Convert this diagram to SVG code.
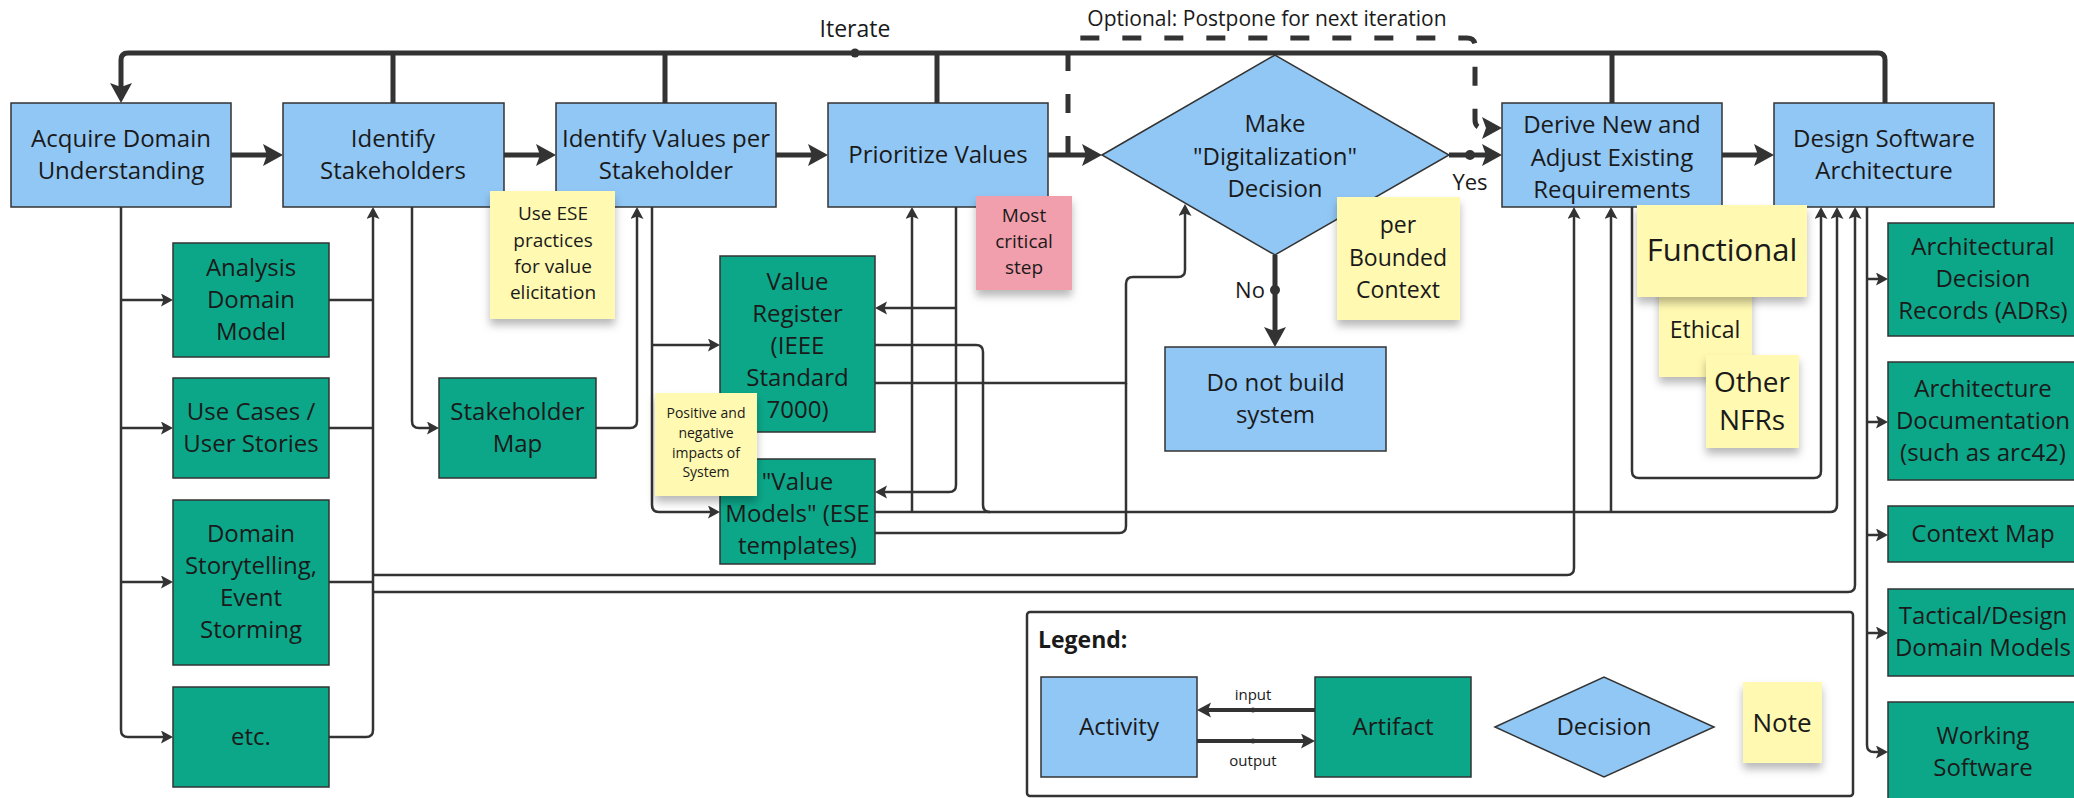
<svg xmlns="http://www.w3.org/2000/svg" width="2074" height="798" viewBox="0 0 2074 798">
<defs>
<style>
text { font-family: 'Open Sans', 'Liberation Sans', sans-serif; fill: #1a1a1a; text-anchor: middle; font-size: 24px; }
.act { fill: #91c7f5; stroke: #333; stroke-width: 1.5; }
.art { fill: #0ca789; stroke: #333; stroke-width: 1.5; }
.note { fill: #fff9b1; filter: url(#nsh); }
.pink { fill: #f29fad; filter: url(#nsh); }
.thick { fill: none; stroke: #333; stroke-width: 5; }
.thin { fill: none; stroke: #333; stroke-width: 2.5; }
.dash { fill: none; stroke: #333; stroke-width: 5; stroke-dasharray: 19 23; }
.mid { fill: none; stroke: #333; stroke-width: 4; }
.lbl { font-size: 22px; }
</style>
<marker id="aT" markerUnits="userSpaceOnUse" markerWidth="24" markerHeight="24" refX="8" refY="11" orient="auto">
<path d="M0,0 L20,11 L0,22 L4,11 z" fill="#333"/>
</marker>
<marker id="at" markerUnits="userSpaceOnUse" markerWidth="14" markerHeight="14" refX="5" refY="6.5" orient="auto">
<path d="M0,0 L12,6.5 L0,13 L2.5,6.5 z" fill="#333"/>
</marker>
<marker id="am" markerUnits="userSpaceOnUse" markerWidth="16" markerHeight="16" refX="6" refY="7.5" orient="auto">
<path d="M0,0 L14,7.5 L0,15 L3,7.5 z" fill="#333"/>
</marker>
<filter id="nsh" x="-20%" y="-20%" width="140%" height="150%">
<feDropShadow dx="0" dy="6" stdDeviation="4" flood-color="#000" flood-opacity="0.28"/>
</filter>
</defs>
<rect width="2074" height="798" fill="#fff"/>

<g id="connectors">
<!-- thick main flow -->
<path class="thick" d="M231,155 H271" marker-end="url(#aT)"/>
<path class="thick" d="M504,155 H544" marker-end="url(#aT)"/>
<path class="thick" d="M776,155 H816" marker-end="url(#aT)"/>
<path class="thick" d="M1048,155 H1090" marker-end="url(#aT)"/>
<path class="thick" d="M1449,155 H1490" marker-end="url(#aT)"/>
<circle cx="1470" cy="155" r="5" fill="#333"/>
<path class="thick" d="M1722,155 H1762" marker-end="url(#aT)"/>
<path class="thick" d="M1275,255 V335" marker-end="url(#aT)"/>
<circle cx="1275" cy="290" r="5" fill="#333"/>
<!-- iterate loop -->
<path class="thick" d="M1885,103 V60 Q1885,53 1878,53 H128 Q121,53 121,60 V91" marker-end="url(#aT)"/>
<path class="thick" d="M393,103 V53 M665,103 V53 M937,103 V53 M1612,103 V53"/>
<circle cx="855" cy="53" r="4.5" fill="#333"/>
<!-- optional dashed -->
<path class="dash" d="M1068,155 V46 Q1068,38 1076,38 H1467 Q1475,38 1475,46 V120 Q1475,128 1483,128 H1490" marker-end="url(#aT)"/>
<!-- acquire outputs -->
<path class="thin" d="M121,207 V730 Q121,737 128,737 H166" marker-end="url(#at)"/>
<path class="thin" d="M121,300 H166" marker-end="url(#at)"/>
<path class="thin" d="M121,428 H166" marker-end="url(#at)"/>
<path class="thin" d="M121,582 H166" marker-end="url(#at)"/>
<!-- artifacts into identify stakeholders -->
<path class="thin" d="M329,300 H373 M329,428 H373 M329,582 H373"/>
<path class="thin" d="M329,737 H366 Q373,737 373,730 V214" marker-end="url(#at)"/>
<path class="thin" d="M373,575 H1567 Q1574,575 1574,568 V214" marker-end="url(#at)"/>
<path class="thin" d="M373,592 H1848 Q1855,592 1855,585 V214" marker-end="url(#at)"/>
<!-- stakeholder map -->
<path class="thin" d="M412,207 V421 Q412,428 419,428 H432" marker-end="url(#at)"/>
<path class="thin" d="M596,428 H630 Q637,428 637,421 V214" marker-end="url(#at)"/>
<!-- identify values outputs -->
<path class="thin" d="M652,207 V505 Q652,512 659,512 H713" marker-end="url(#at)"/>
<path class="thin" d="M652,345 H713" marker-end="url(#at)"/>
<!-- prioritize outputs -->
<path class="thin" d="M956,207 V485 Q956,492 949,492 H882" marker-end="url(#at)"/>
<path class="thin" d="M956,308 H882" marker-end="url(#at)"/>
<!-- value artifacts inputs -->
<path class="thin" d="M875,345 H976 Q983,345 983,352 V505 Q983,512 990,512"/>
<path class="thin" d="M875,512 H1830 Q1837,512 1837,505 V214" marker-end="url(#at)"/>
<path class="thin" d="M912,512 V214" marker-end="url(#at)"/>
<path class="thin" d="M1611,512 V214" marker-end="url(#at)"/>
<path class="thin" d="M875,383 H1126 V284 Q1126,277 1133,277 H1178 Q1185,277 1185,270 V211" marker-end="url(#at)"/>
<path class="thin" d="M875,533 H1119 Q1126,533 1126,526 V383"/>
<!-- derive to design loop -->
<path class="thin" d="M1632,207 V471 Q1632,478 1639,478 H1814 Q1821,478 1821,471 V214" marker-end="url(#at)"/>
<!-- design outputs -->
<path class="thin" d="M1867,207 V745 Q1867,752 1874,752 H1881" marker-end="url(#at)"/>
<path class="thin" d="M1867,279 H1881" marker-end="url(#at)"/>
<path class="thin" d="M1867,422 H1881" marker-end="url(#at)"/>
<path class="thin" d="M1867,535 H1881" marker-end="url(#at)"/>
<path class="thin" d="M1867,633 H1881" marker-end="url(#at)"/>
<text x="855" y="37" style="font-size:23px">Iterate</text>
<text x="1267" y="26" style="font-size:21px">Optional: Postpone for next iteration</text>
<text class="lbl" x="1470" y="190">Yes</text>
<text class="lbl" x="1250" y="298">No</text>
</g>

<g id="acquire"><rect class="act" x="11" y="103" width="220" height="104"/><text x="121"><tspan x="121" y="147">Acquire Domain</tspan><tspan x="121" y="179">Understanding</tspan></text></g>
<g id="identify-stakeholders"><rect class="act" x="283" y="103" width="221" height="104"/><text><tspan x="393" y="147">Identify</tspan><tspan x="393" y="179">Stakeholders</tspan></text></g>
<g id="identify-values"><rect class="act" x="556" y="103" width="220" height="104"/><text><tspan x="666" y="147">Identify Values per</tspan><tspan x="666" y="179">Stakeholder</tspan></text></g>
<g id="prioritize"><rect class="act" x="828" y="103" width="220" height="104"/><text x="938" y="163">Prioritize Values</text></g>
<g id="decision"><polygon class="act" points="1102,155 1275,55 1449,155 1275,255"/><text><tspan x="1275" y="132">Make</tspan><tspan x="1275" y="165">"Digitalization"</tspan><tspan x="1275" y="197">Decision</tspan></text></g>
<g id="derive"><rect class="act" x="1502" y="103" width="220" height="104"/><text><tspan x="1612" y="133">Derive New and</tspan><tspan x="1612" y="166">Adjust Existing</tspan><tspan x="1612" y="198">Requirements</tspan></text></g>
<g id="design"><rect class="act" x="1774" y="103" width="220" height="104"/><text><tspan x="1884" y="147">Design Software</tspan><tspan x="1884" y="179">Architecture</tspan></text></g>
<g id="do-not-build"><rect class="act" x="1165" y="347" width="221" height="104"/><text><tspan x="1275.5" y="391">Do not build</tspan><tspan x="1275.5" y="423">system</tspan></text></g>

<g id="analysis-domain-model"><rect class="art" x="173" y="243" width="156" height="114"/><text><tspan x="251" y="276">Analysis</tspan><tspan x="251" y="308">Domain</tspan><tspan x="251" y="340">Model</tspan></text></g>
<g id="use-cases"><rect class="art" x="173" y="378" width="156" height="100"/><text><tspan x="251" y="420">Use Cases /</tspan><tspan x="251" y="452">User Stories</tspan></text></g>
<g id="storytelling"><rect class="art" x="173" y="500" width="156" height="165"/><text><tspan x="251" y="542">Domain</tspan><tspan x="251" y="574">Storytelling,</tspan><tspan x="251" y="606">Event</tspan><tspan x="251" y="638">Storming</tspan></text></g>
<g id="etc"><rect class="art" x="173" y="687" width="156" height="100"/><text x="251" y="745">etc.</text></g>
<g id="stakeholder-map"><rect class="art" x="439" y="378" width="157" height="100"/><text><tspan x="517.5" y="420">Stakeholder</tspan><tspan x="517.5" y="452">Map</tspan></text></g>
<g id="value-register"><rect class="art" x="720" y="256" width="155" height="176"/><text><tspan x="797.5" y="290">Value</tspan><tspan x="797.5" y="322">Register</tspan><tspan x="797.5" y="354">(IEEE</tspan><tspan x="797.5" y="386">Standard</tspan><tspan x="797.5" y="418">7000)</tspan></text></g>
<g id="value-models"><rect class="art" x="720" y="459" width="155" height="105"/><text><tspan x="797.5" y="490">"Value</tspan><tspan x="797.5" y="522">Models" (ESE</tspan><tspan x="797.5" y="554">templates)</tspan></text></g>
<g id="adr"><rect class="art" x="1888" y="223" width="190" height="113"/><text><tspan x="1983" y="255">Architectural</tspan><tspan x="1983" y="287">Decision</tspan><tspan x="1983" y="319">Records (ADRs)</tspan></text></g>
<g id="arch-doc"><rect class="art" x="1888" y="362" width="190" height="118"/><text><tspan x="1983" y="397">Architecture</tspan><tspan x="1983" y="429">Documentation</tspan><tspan x="1983" y="461">(such as arc42)</tspan></text></g>
<g id="context-map"><rect class="art" x="1888" y="506" width="190" height="56"/><text x="1983" y="542">Context Map</text></g>
<g id="tactical"><rect class="art" x="1888" y="589" width="190" height="87"/><text><tspan x="1983" y="624">Tactical/Design</tspan><tspan x="1983" y="656">Domain Models</tspan></text></g>
<g id="working-software"><rect class="art" x="1888" y="702" width="190" height="100"/><text><tspan x="1983" y="744">Working</tspan><tspan x="1983" y="776">Software</tspan></text></g>

<g id="note-ese"><rect class="note" x="490" y="191" width="125" height="128"/><text style="font-size:19px"><tspan x="553" y="220">Use ESE</tspan><tspan x="553" y="247">practices</tspan><tspan x="553" y="273">for value</tspan><tspan x="553" y="299">elicitation</tspan></text></g>
<g id="note-impacts"><rect class="note" x="655" y="393" width="102" height="103"/><text style="font-size:14px"><tspan x="706" y="418">Positive and</tspan><tspan x="706" y="438">negative</tspan><tspan x="706" y="458">impacts of</tspan><tspan x="706" y="477">System</tspan></text></g>
<g id="note-critical"><rect class="pink" x="976" y="196" width="96" height="94"/><text style="font-size:19px"><tspan x="1024" y="222">Most</tspan><tspan x="1024" y="248">critical</tspan><tspan x="1024" y="274">step</tspan></text></g>
<g id="note-bounded"><rect class="note" x="1337" y="197" width="123" height="123"/><text style="font-size:23px"><tspan x="1398" y="233">per</tspan><tspan x="1398" y="266">Bounded</tspan><tspan x="1398" y="298">Context</tspan></text></g>
<g id="note-ethical"><rect class="note" x="1659" y="283" width="93" height="94"/><text x="1705" y="338" style="font-size:23px">Ethical</text></g>
<g id="note-other"><rect class="note" x="1706" y="355" width="93" height="93"/><text style="font-size:28px"><tspan x="1752" y="392">Other</tspan><tspan x="1752" y="430">NFRs</tspan></text></g>
<g id="note-functional"><rect class="note" x="1637" y="205" width="170" height="92"/><text x="1722" y="261" style="font-size:31px">Functional</text></g>

<g id="legend">
<rect x="1027" y="612" width="826" height="184" rx="3" fill="none" stroke="#333" stroke-width="2.5"/>
<text x="1038" y="648" style="font-size:23px;font-weight:bold;text-anchor:start">Legend:</text>
<rect class="act" x="1041" y="677" width="156" height="100"/><text x="1119" y="735">Activity</text>
<rect class="art" x="1315" y="677" width="156" height="100"/><text x="1393" y="735">Artifact</text>
<polygon class="act" points="1495,727 1604,677 1714,727 1604,777"/><text x="1604" y="735">Decision</text>
<rect class="note" x="1743" y="682" width="79" height="81"/><text x="1782" y="732" style="font-size:26px">Note</text>
<path class="mid" d="M1315,710 H1205" marker-end="url(#am)"/>
<path class="mid" d="M1197,741 H1307" marker-end="url(#am)"/>
<circle cx="1253" cy="710" r="2.5" fill="#333"/>
<circle cx="1253" cy="741" r="2.5" fill="#333"/>
<text x="1253" y="700" style="font-size:15px">input</text>
<text x="1253" y="766" style="font-size:15px">output</text>
</g>
</svg>
